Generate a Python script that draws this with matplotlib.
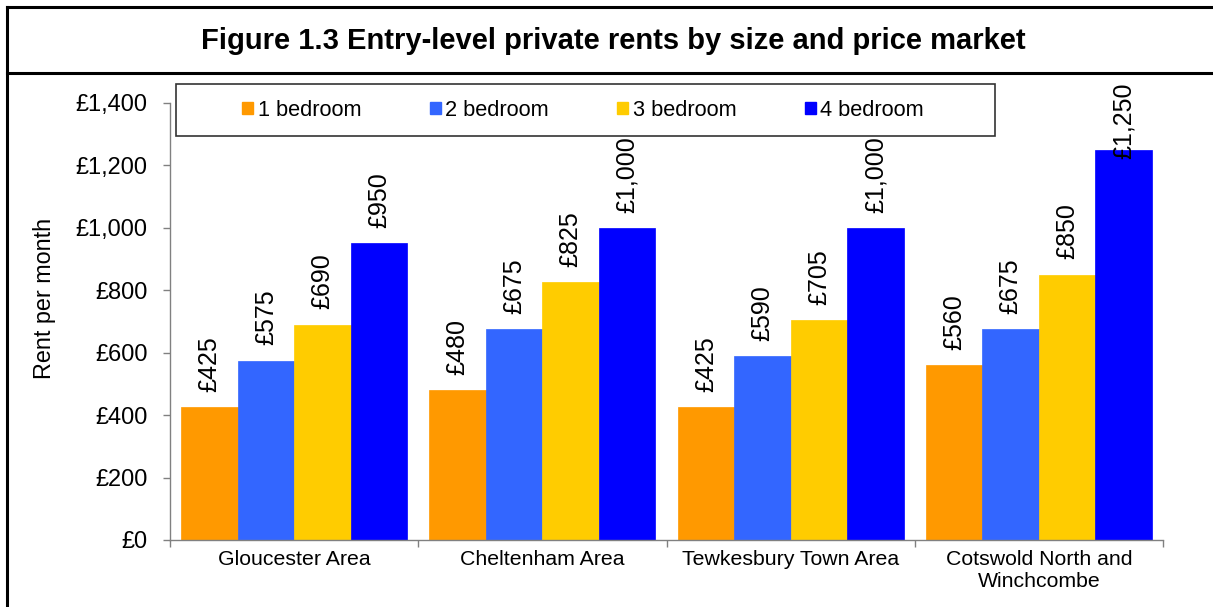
import matplotlib
matplotlib.use("Agg")
import matplotlib.pyplot as plt
from matplotlib.lines import Line2D
from matplotlib.patches import Rectangle
import numpy as np

plt.rcParams['font.family'] = ['Liberation Sans', 'DejaVu Sans']

# ---- data ----
categories = ["Gloucester Area", "Cheltenham Area", "Tewkesbury Town Area",
              "Cotswold North and\nWinchcombe"]
series_names = ["1 bedroom", "2 bedroom", "3 bedroom", "4 bedroom"]
one_bed = [425, 480, 425, 560]
two_bed = [575, 675, 590, 675]
three_bed = [690, 825, 705, 850]
four_bed = [950, 1000, 1000, 1250]
y_ticks = [0, 200, 400, 600, 800, 1000, 1200, 1400]
title = "Figure 1.3 Entry-level private rents by size and price market"
y_label = "Rent per month"

colors = ["#FF9900", "#3366FF", "#FFCC00", "#0000FF"]
series = [one_bed, two_bed, three_bed, four_bed]

W, H = 1213, 607
fig = plt.figure(figsize=(W / 100, H / 100), dpi=100)

def fx(px):
    return px / W

def fy(py):
    return 1 - py / H

# axes placement
ax_left, ax_right, ax_top, ax_bottom = 170, 1163, 103, 540
ax = fig.add_axes([fx(ax_left), fy(ax_bottom), fx(ax_right - ax_left),
                   (ax_bottom - ax_top) / H])

x = np.arange(len(categories))
bw = 0.2275
for i, (vals, col) in enumerate(zip(series, colors)):
    ax.bar(x + (i - 1.5) * bw, vals, width=bw, color=col, edgecolor=col,
           linewidth=0.5, label=series_names[i], zorder=2)

ax.set_xlim(-0.5, len(categories) - 0.5)
ax.set_ylim(0, 1400)
ax.set_yticks(y_ticks)
ax.set_yticklabels([f"£{v:,}" for v in y_ticks], fontsize=17)
ax.tick_params(axis='y', direction='out', length=5, width=1, color='#808080', pad=11)

# category boundary ticks (major) and centered labels (minor)
ax.set_xticks(np.arange(len(categories) + 1) - 0.5)
ax.set_xticklabels([])
ax.set_xticks(x, minor=True)
ax.set_xticklabels(categories, minor=True, fontsize=15.3, linespacing=1.25)
ax.tick_params(axis='x', which='major', direction='out', length=5, width=1, color='#808080')
ax.tick_params(axis='x', which='minor', length=0, pad=7)

for s in ['top', 'right']:
    ax.spines[s].set_visible(False)
for s in ['left', 'bottom']:
    ax.spines[s].set_color('#808080')
    ax.spines[s].set_linewidth(1)

# y label
fig.text(fx(45), fy(298), y_label, rotation=90, ha='center', va='center', fontsize=16.8)

# data labels
anns = []
for i, vals in enumerate(series):
    for j, v in enumerate(vals):
        a = ax.annotate(f"£{v:,}", xy=(x[j] + (i - 1.5) * bw, v), xytext=(0, 11),
                        textcoords='offset points', rotation=90, ha='center',
                        va='bottom', fontsize=18, annotation_clip=False)
        anns.append(a)

fig.canvas.draw()
limit_disp = (H - 83)  # display pixels from bottom: text top may not exceed
for a in anns:
    bb = a.get_window_extent()
    if bb.y1 > limit_disp:
        shift_pt = (bb.y1 - limit_disp) * 72 / 100
        ox, oy = a.xyann
        a.xyann = (ox, oy - shift_pt)

# legend with custom frame
leg_l, leg_r, leg_t, leg_b = 176, 995, 84, 136
fig.patches.append(Rectangle((fx(leg_l), fy(leg_b)), fx(leg_r - leg_l), (leg_b - leg_t) / H,
                             transform=fig.transFigure, facecolor='white',
                             edgecolor='#333333', linewidth=1.2, zorder=5))
handles = [Rectangle((0, 0), 1, 1, facecolor=c, edgecolor=c) for c in colors]
leg = fig.legend(handles, series_names, ncol=4, loc='center',
                 bbox_to_anchor=(fx(583), fy(110)), frameon=False,
                 fontsize=15.7, handlelength=0.5, handleheight=0.5,
                 handletextpad=0.2, columnspacing=3.15, borderpad=0)
leg.set_zorder(6)

# title and frame
fig.text(fx(613), fy(41), title, ha='center', va='center', fontsize=21, fontweight='bold')
lw = 2.2
fig.add_artist(Line2D([fx(7), fx(W + 5)], [fy(7), fy(7)], color='black', lw=lw, transform=fig.transFigure))
fig.add_artist(Line2D([fx(7), fx(W + 5)], [fy(73), fy(73)], color='black', lw=lw, transform=fig.transFigure))
fig.add_artist(Line2D([fx(7), fx(7)], [fy(7), fy(H + 5)], color='black', lw=lw, transform=fig.transFigure))

fig.savefig("out.png", dpi=100)
